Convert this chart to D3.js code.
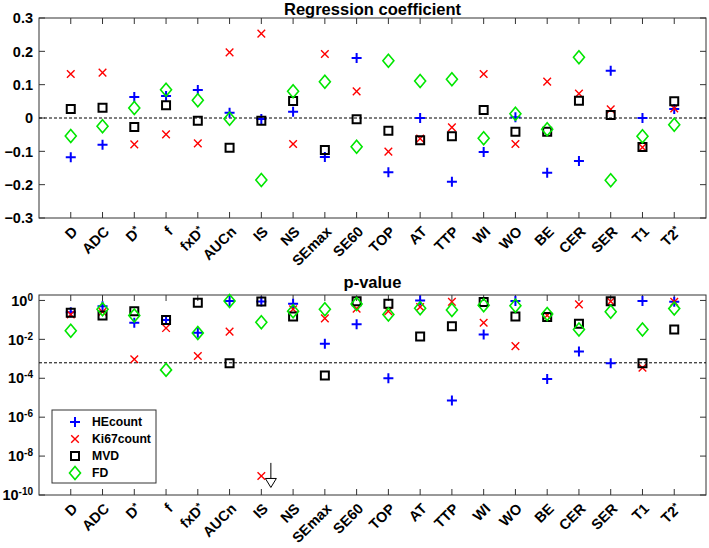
<!DOCTYPE html>
<html>
<head>
<meta charset="utf-8">
<script src="https://cdn.jsdelivr.net/npm/d3@7"></script>
<style>
  body { margin: 0; background: #fff; }
  text { font-family: Arial, "Liberation Sans", sans-serif; font-weight: bold; fill: #000; }
</style>
</head>
<body>
<svg id="chart" width="709" height="548"></svg>
<script>
// categories on the x axis (a trailing * is drawn as superscript)
const categories = ["D","ADC","D*","f","fxD*","AUCn","IS","NS","SEmax","SE60",
                    "TOP","AT","TTP","WI","WO","BE","CER","SER","T1","T2*"];

// regression coefficients
const coefHE   = [-0.118,-0.080,0.063,0.066,0.084,0.016,-0.003,0.019,-0.117,0.180,
                  -0.163,0.000,-0.191,-0.102,0.002,-0.164,-0.129,0.142,0.000,0.027];
const coefKi67 = [0.132,0.136,-0.079,-0.049,-0.076,0.197,0.253,-0.078,0.192,0.080,
                  -0.101,-0.062,-0.028,0.132,-0.078,0.109,0.073,0.026,-0.088,0.029];
const coefMVD  = [0.027,0.031,-0.027,0.038,-0.008,-0.089,-0.008,0.051,-0.096,-0.004,
                  -0.038,-0.067,-0.055,0.024,-0.041,-0.041,0.052,0.009,-0.087,0.050];
const coefFD   = [-0.054,-0.025,0.030,0.085,0.053,-0.002,-0.186,0.080,0.109,-0.086,
                  0.172,0.111,0.116,-0.061,0.013,-0.034,0.182,-0.187,-0.055,-0.020];

// p-values
const pHE   = [0.25,0.51,0.071,0.10,0.022,0.93,0.89,0.68,5.9e-3,0.059,
               1.0e-4,1.0,7.1e-6,0.018,0.95,9.3e-5,2.4e-3,6.0e-4,0.93,0.85];
const pKi67 = [0.19,0.26,9.5e-4,0.038,1.4e-3,0.025,9.5e-10,0.35,0.12,0.38,
               0.28,0.46,0.85,0.071,4.5e-3,0.17,0.63,0.89,3.5e-4,0.85];
const pMVD  = [0.23,0.17,0.28,0.10,0.76,6.0e-4,0.87,0.15,1.4e-4,0.91,
               0.68,0.014,0.047,0.83,0.15,0.14,0.063,0.91,6.0e-4,0.032];
const pFD   = [0.028,0.35,0.17,2.7e-4,0.021,0.93,0.076,0.28,0.35,0.66,
               0.19,0.40,0.32,0.56,0.54,0.20,0.032,0.26,0.032,0.38];

const seriesNames = ["HEcount","Ki67count","MVD","FD"];
const pThreshold = 0.05 / 80;

const coefTicks = [-0.3,-0.2,-0.1,0,0.1,0.2,0.3];
const pTickExp = [0,-2,-4,-6,-8,-10];

const svg = d3.select("#chart");
const left = 39, right = 706;

const x = d3.scaleLinear().domain([0, categories.length + 1]).range([left, right]);
const yC = d3.scaleLinear().domain([-0.3, 0.3]).range([218, 18]);
const yP = d3.scaleLog().domain([1e-10, Math.pow(10, 0.28)]).range([495, 295]);

// marker shapes
const styles = [
  {color: "#0000ff", width: 2,   shape: "plus"},
  {color: "#ff0000", width: 1.4, shape: "cross"},
  {color: "#000000", width: 2,   shape: "square"},
  {color: "#00e600", width: 1.6, shape: "diamond"}
];
function markerPath(shape) {
  if (shape === "plus") return "M-5,0H5M0,-5V5";
  if (shape === "cross") return "M-3.8,-3.8L3.8,3.8M-3.8,3.8L3.8,-3.8";
  if (shape === "square") return "M-4,-4H4V4H-4Z";
  return "M0,-6.5L5.5,0L0,6.5L-5.5,0Z";
}

function addCatLabels(g, yBase) {
  categories.forEach((c, i) => {
    const star = c.endsWith("*");
    const t = g.append("text")
      .attr("transform", `translate(${x(i + 1) + 4},${yBase}) rotate(-45)`)
      .attr("text-anchor", "end")
      .attr("dy", "0.35em")
      .style("font-size", "14.5px");
    t.append("tspan").text(star ? c.slice(0, -1) : c);
    if (star) t.append("tspan").attr("dy", "-0.4em").style("font-size", "10px").text("*");
  });
}

function frame(g, y, top, bottom, tickVals) {
  g.append("rect").attr("x", left).attr("y", top)
    .attr("width", right - left).attr("height", bottom - top)
    .attr("fill", "none").attr("stroke", "#333").attr("stroke-width", 1);
  categories.forEach((c, i) => {
    g.append("line").attr("x1", x(i + 1)).attr("x2", x(i + 1))
      .attr("y1", bottom).attr("y2", bottom - 6).attr("stroke", "#333");
    g.append("line").attr("x1", x(i + 1)).attr("x2", x(i + 1))
      .attr("y1", top).attr("y2", top + 6).attr("stroke", "#333");
  });
  tickVals.forEach(v => {
    g.append("line").attr("x1", left).attr("x2", left + 6)
      .attr("y1", y(v)).attr("y2", y(v)).attr("stroke", "#333");
    g.append("line").attr("x1", right).attr("x2", right - 6)
      .attr("y1", y(v)).attr("y2", y(v)).attr("stroke", "#333");
  });
}

function drawPoints(g, y, seriesList) {
  seriesList.forEach((vals, s) => {
    const st = styles[s];
    g.append("g").selectAll("path")
      .data(vals)
      .enter()
      .append("path")
      .attr("transform", (d, i) => `translate(${x(i + 1)},${y(d)})`)
      .attr("d", markerPath(st.shape))
      .attr("fill", "none")
      .attr("stroke", st.color)
      .attr("stroke-width", st.width);
  });
}

// ---- top panel: regression coefficient
const gTop = svg.append("g");
frame(gTop, yC, 18, 218, coefTicks);
gTop.append("line").attr("x1", left).attr("x2", right)
  .attr("y1", yC(0)).attr("y2", yC(0))
  .attr("stroke", "#000").attr("stroke-dasharray", "3,2");
coefTicks.forEach(v => {
  gTop.append("text").attr("x", 33).attr("y", yC(v)).attr("dy", "0.36em")
    .attr("text-anchor", "end").style("font-size", "14.5px")
    .text(v === 0 ? "0" : d3.format(".1f")(v));
});
drawPoints(gTop, yC, [coefHE, coefKi67, coefMVD, coefFD]);
addCatLabels(gTop, 229);
gTop.append("text").attr("x", (left + right) / 2).attr("y", 14.5)
  .attr("text-anchor", "middle").style("font-size", "16.5px")
  .text("Regression coefficient");

// ---- bottom panel: p-value
const gBot = svg.append("g");
frame(gBot, yP, 295, 495, pTickExp.map(e => Math.pow(10, e)));
gBot.append("line").attr("x1", left).attr("x2", right)
  .attr("y1", yP(pThreshold)).attr("y2", yP(pThreshold))
  .attr("stroke", "#000").attr("stroke-dasharray", "3,2");
pTickExp.forEach(e => {
  const t = gBot.append("text").attr("x", 33).attr("y", yP(Math.pow(10, e)))
    .attr("dy", "0.36em").attr("text-anchor", "end").style("font-size", "14.5px");
  t.append("tspan").text("10");
  t.append("tspan").attr("dy", "-0.5em").style("font-size", "10px").text(e);
});
drawPoints(gBot, yP, [pHE, pKi67, pMVD, pFD]);
addCatLabels(gBot, 506);
gBot.append("text").attr("x", (left + right) / 2).attr("y", 288)
  .attr("text-anchor", "middle").style("font-size", "16.5px")
  .text("p-value");

// arrow: IS Ki67 p-value lies below the shown range
const isIdx = categories.indexOf("IS") + 1;
const ax = x(isIdx + 0.3);
gBot.append("line").attr("x1", ax).attr("x2", ax)
  .attr("y1", yP(Math.pow(10, -8.35))).attr("y2", yP(Math.pow(10, -9.15)))
  .attr("stroke", "#000").attr("stroke-width", 1);
const ty = yP(Math.pow(10, -9.15));
gBot.append("path")
  .attr("d", `M${ax - 5.5},${ty}L${ax + 5.5},${ty}L${ax},${ty + 9}Z`)
  .attr("fill", "#fff").attr("stroke", "#000").attr("stroke-width", 1);

// legend
const lg = svg.append("g");
lg.append("rect").attr("x", 52).attr("y", 410).attr("width", 104).attr("height", 73)
  .attr("fill", "#fff").attr("stroke", "#333");
seriesNames.forEach((n, i) => {
  const yy = 422 + i * 17;
  lg.append("path").attr("transform", `translate(75,${yy})`)
    .attr("d", markerPath(styles[i].shape)).attr("fill", "none")
    .attr("stroke", styles[i].color).attr("stroke-width", styles[i].width);
  lg.append("text").attr("x", 92).attr("y", yy).attr("dy", "0.36em")
    .style("font-size", "12.2px").text(n);
});
</script>
</body>
</html>
